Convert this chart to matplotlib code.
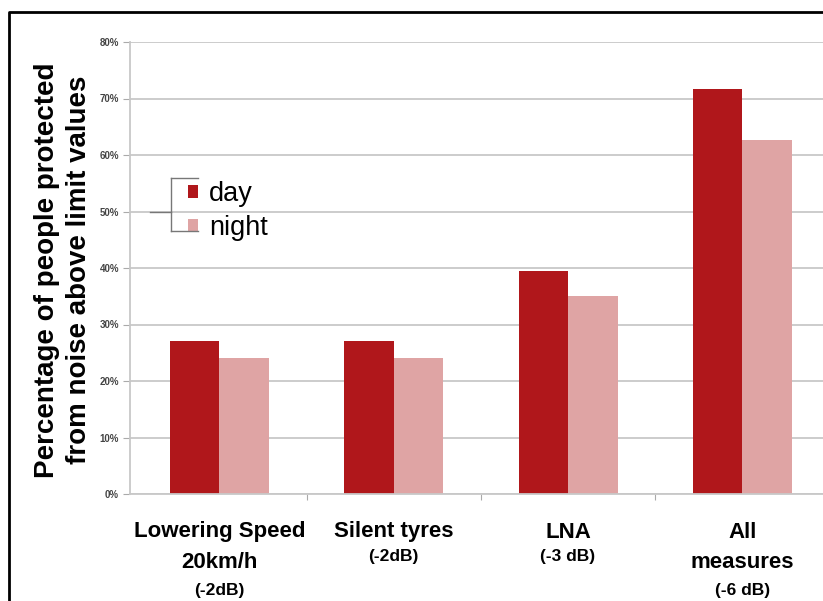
import numpy as np
import matplotlib
matplotlib.use('Agg')
import matplotlib.pyplot as plt
from matplotlib.lines import Line2D
from matplotlib.transforms import blended_transform_factory

plt.rcParams['font.family'] = ['Liberation Sans', 'DejaVu Sans']

# 数据
categories = [['Lowering Speed', '20km/h'], ['Silent tyres'], ['LNA'], ['All', 'measures']]
sub_labels = ['(-2dB)', '(-2dB)', '(-3 dB)', '(-6 dB)']
day = [27, 27, 39.5, 71.7]
night = [24, 24, 35, 62.7]
yticks = [0, 10, 20, 30, 40, 50, 60, 70, 80]

day_color = '#B0171B'
night_color = '#DFA4A4'

W, H = 823, 601
fig = plt.figure(figsize=(W / 100, H / 100), dpi=100)
ax = fig.add_axes([130 / W, 107 / H, 693 / W, 452 / H])

x = np.arange(len(categories))
bw = 0.284
b1 = ax.bar(x - bw / 2, day, bw, color=day_color, label='day')
b2 = ax.bar(x + bw / 2, night, bw, color=night_color, label='night')

ax.set_xlim(-0.513, 3.463)
ax.set_ylim(0, 80)
ax.set_yticks(yticks)
ax.set_yticklabels([f'{v}%' for v in yticks], fontsize=7, fontweight='bold', color='#444444')
ax.yaxis.grid(True, color='#c8c8c8', linewidth=1.3)
ax.set_axisbelow(True)
ax.tick_params(axis='y', length=5, color='#aaaaaa', pad=3)

# 类别分隔刻度
ax.set_xticks(x[:-1] + 0.5)
ax.set_xticklabels([])
ax.tick_params(axis='x', length=4, color='#aaaaaa', direction='out')

for s in ['top', 'right']:
    ax.spines[s].set_visible(False)
for s in ['left', 'bottom']:
    ax.spines[s].set_color('#c8c8c8')
    ax.spines[s].set_linewidth(1.3)

# y轴标题
fig.text(63 / W, 1 - 270 / H, 'Percentage of people protected\nfrom noise above limit values',
         rotation=90, ha='center', va='center', fontsize=20, fontweight='bold',
         linespacing=1.28)

# x轴标签
tr = blended_transform_factory(ax.transData, fig.transFigure)
line_y = [532, 563]
sub_y = [590, 557, 557, 590]
for i, (lines, s) in enumerate(zip(categories, sub_labels)):
    for j, t in enumerate(lines):
        ax.text(x[i], 1 - line_y[j] / H, t, transform=tr, ha='center', va='center',
                fontsize=16, fontweight='bold', clip_on=False)
    ax.text(x[i], 1 - sub_y[i] / H, s, transform=tr, ha='center', va='center',
            fontsize=12.5, fontweight='bold', clip_on=False)

# 图例
leg = ax.legend(handles=[b1, b2], loc='upper left', bbox_to_anchor=(188 / W, 1 - 181 / H),
                bbox_transform=fig.transFigure, frameon=False, fontsize=19.5,
                handlelength=0.36, handleheight=0.36, handletextpad=0.42,
                labelspacing=0.3, borderpad=0, borderaxespad=0)

# 图例括号线
px = lambda a, b: (a / W, 1 - b / H)
lc = '#777777'
for (xa, ya), (xb, yb) in [((150, 212), (171, 212)), ((171, 178), (171, 231)),
                           ((171, 178), (198, 178)), ((171, 231), (198, 231))]:
    p1, p2 = px(xa, ya), px(xb, yb)
    fig.add_artist(Line2D([p1[0], p2[0]], [p1[1], p2[1]], transform=fig.transFigure,
                          color=lc, linewidth=1))

# 外框
fig.add_artist(Line2D([9 / W, 9 / W, 1], [0, 1 - 12 / H, 1 - 12 / H],
                      transform=fig.transFigure, color='black', linewidth=2))

fig.savefig('out.png', dpi=100)
